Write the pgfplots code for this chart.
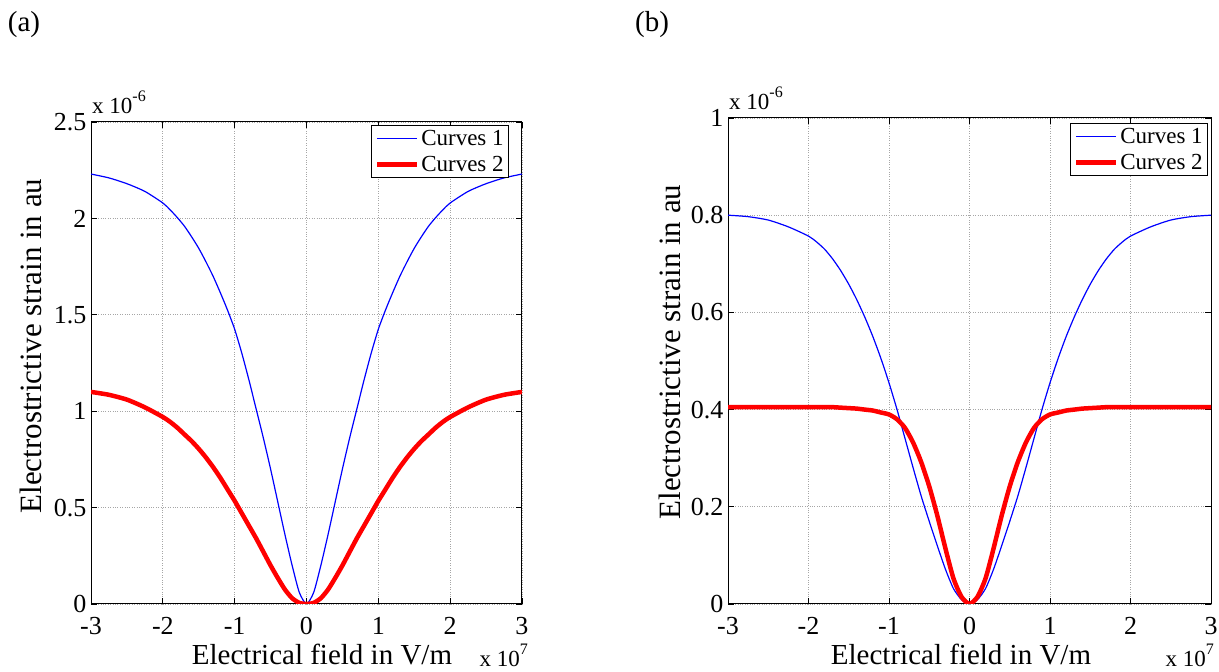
\documentclass[border=0pt]{standalone}
\usepackage{pgfplots}
\usepackage{pgfplotstable}
\pgfplotsset{compat=1.18}
\usepackage{fontspec}
\setmainfont{Liberation Serif}

\pgfplotstableread{
x c1 c2
-3.0 2.23 1.100
-2.75 2.21 1.085
-2.5 2.18 1.060
-2.25 2.14 1.020
-2.0 2.08 0.970
-1.9 2.045 0.945
-1.8 2.005 0.915
-1.7 1.96 0.880
-1.6 1.905 0.845
-1.5 1.845 0.805
-1.4 1.775 0.760
-1.3 1.70 0.710
-1.2 1.615 0.655
-1.1 1.525 0.595
-1.0 1.425 0.535
-0.9 1.30 0.470
-0.8 1.16 0.405
-0.7 1.01 0.340
-0.6 0.86 0.270
-0.5 0.70 0.200
-0.4 0.53 0.135
-0.3 0.36 0.075
-0.2 0.20 0.030
-0.1 0.06 0.006
0.0 0.00 0.000
0.1 0.06 0.006
0.2 0.20 0.030
0.3 0.36 0.075
0.4 0.53 0.135
0.5 0.70 0.200
0.6 0.86 0.270
0.7 1.01 0.340
0.8 1.16 0.405
0.9 1.30 0.470
1.0 1.425 0.535
1.1 1.525 0.595
1.2 1.615 0.655
1.3 1.70 0.710
1.4 1.775 0.760
1.5 1.845 0.805
1.6 1.905 0.845
1.7 1.96 0.880
1.8 2.005 0.915
1.9 2.045 0.945
2.0 2.08 0.970
2.25 2.14 1.020
2.5 2.18 1.060
2.75 2.21 1.085
3.0 2.23 1.100
}\dataA

\pgfplotstableread{
x c1 c2
-3.0 0.800 0.405
-2.75 0.797 0.405
-2.5 0.790 0.405
-2.25 0.776 0.405
-2.0 0.757 0.405
-1.9 0.745 0.405
-1.8 0.730 0.405
-1.7 0.710 0.405
-1.6 0.686 0.404
-1.5 0.658 0.403
-1.4 0.626 0.402
-1.3 0.590 0.400
-1.2 0.550 0.398
-1.1 0.505 0.394
-1.0 0.455 0.390
-0.9 0.400 0.380
-0.8 0.340 0.362
-0.7 0.280 0.332
-0.6 0.222 0.292
-0.5 0.170 0.242
-0.4 0.120 0.182
-0.3 0.072 0.115
-0.2 0.032 0.053
-0.1 0.009 0.015
0.0 0.000 0.000
0.1 0.009 0.015
0.2 0.032 0.053
0.3 0.072 0.115
0.4 0.120 0.182
0.5 0.170 0.242
0.6 0.222 0.292
0.7 0.280 0.332
0.8 0.340 0.362
0.9 0.400 0.380
1.0 0.455 0.390
1.1 0.505 0.394
1.2 0.550 0.398
1.3 0.590 0.400
1.4 0.626 0.402
1.5 0.658 0.403
1.6 0.686 0.404
1.7 0.710 0.405
1.8 0.730 0.405
1.9 0.745 0.405
2.0 0.757 0.405
2.25 0.776 0.405
2.5 0.790 0.405
2.75 0.797 0.405
3.0 0.800 0.405
}\dataB

\pgfplotsset{
  matlab/.style={
    scale only axis,
    xmin=-3, xmax=3, ymin=0,
    xtick={-3,-2,-1,0,1,2,3},
    xticklabels={-3,-2,-1,0,1,2,3},
    grid=major,
    grid style={dotted, gray!70, line width=0.9pt},
    tick align=inside,
    major tick length=6pt,
    tick style={black, line width=0.8pt},
    axis line style={black, line width=1pt},
    ticklabel style={font=\fontsize{26}{26}\selectfont},
    xticklabel style={yshift=-10pt},
    yticklabel style={xshift=-1pt},
    legend style={draw=black, line width=0.8pt, fill=white,
      font=\fontsize{23}{25}\selectfont, inner sep=3pt,
      row sep=5pt, cells={anchor=west}, anchor=north east},
    legend image code/.code={\draw[##1] (0pt,0pt) -- (40pt,0pt);},
  },
  c1/.style={blue, line width=1.2pt, smooth, tension=0.4},
  c2/.style={red, line width=4.5pt, smooth, tension=0.4},
}

\begin{document}
\begin{tikzpicture}
\path[use as bounding box] (0,0) rectangle (1219pt,672pt);

% panel (a)
\begin{axis}[matlab,
  at={(91pt,68pt)}, anchor=south west,
  width=431pt, height=482pt,
  ymax=2.5,
  ytick={0,0.5,1,1.5,2,2.5},
  yticklabels={0,0.5,1,1.5,2,2.5},
  legend style={at={(0.970,0.994)}},
]
\addplot[c1] table[x=x, y=c1] {\dataA};
\addlegendentry{Curves 1}
\addplot[c2] table[x=x, y=c2] {\dataA};
\addlegendentry{Curves 2}
\end{axis}

% panel (b)
\begin{axis}[matlab,
  at={(728pt,68pt)}, anchor=south west,
  width=483pt, height=486pt,
  ymax=1,
  ytick={0,0.2,0.4,0.6,0.8,1},
  yticklabels={0,0.2,0.4,0.6,0.8,1},
  legend style={at={(0.994,0.990)}},
]
\addplot[c1] table[x=x, y=c1] {\dataB};
\addlegendentry{Curves 1}
\addplot[c2] table[x=x, y=c2] {\dataB};
\addlegendentry{Curves 2}
\end{axis}

% panel letters
\node[font=\fontsize{29}{29}\selectfont] at (24pt,647pt) {(a)};
\node[font=\fontsize{29}{29}\selectfont] at (652pt,647pt) {(b)};

% axis labels
\node[font=\fontsize{29}{29}\selectfont] at (322pt,17pt) {Electrical field in V/m};
\node[font=\fontsize{29}{29}\selectfont] at (961pt,17pt) {Electrical field in V/m};
\node[font=\fontsize{31}{31}\selectfont, rotate=90] at (31pt,326pt) {Electrostrictive strain in au};
\node[font=\fontsize{31}{31}\selectfont, rotate=90] at (670pt,320pt) {Electrostrictive strain in au};

% exponent labels
\node[font=\fontsize{23}{23}\selectfont, anchor=base west, inner sep=0pt] at (92pt,558pt) {x 10\raisebox{0.55em}{\fontsize{16}{16}\selectfont -6}};
\node[font=\fontsize{23}{23}\selectfont, anchor=base west, inner sep=0pt] at (729pt,562pt) {x 10\raisebox{0.55em}{\fontsize{16}{16}\selectfont -6}};
\node[font=\fontsize{23}{23}\selectfont, anchor=base east, inner sep=0pt] at (528pt,5pt) {x 10\raisebox{0.55em}{\fontsize{16}{16}\selectfont 7}};
\node[font=\fontsize{23}{23}\selectfont, anchor=base east, inner sep=0pt] at (1214pt,5pt) {x 10\raisebox{0.55em}{\fontsize{16}{16}\selectfont 7}};
\end{tikzpicture}
\end{document}
